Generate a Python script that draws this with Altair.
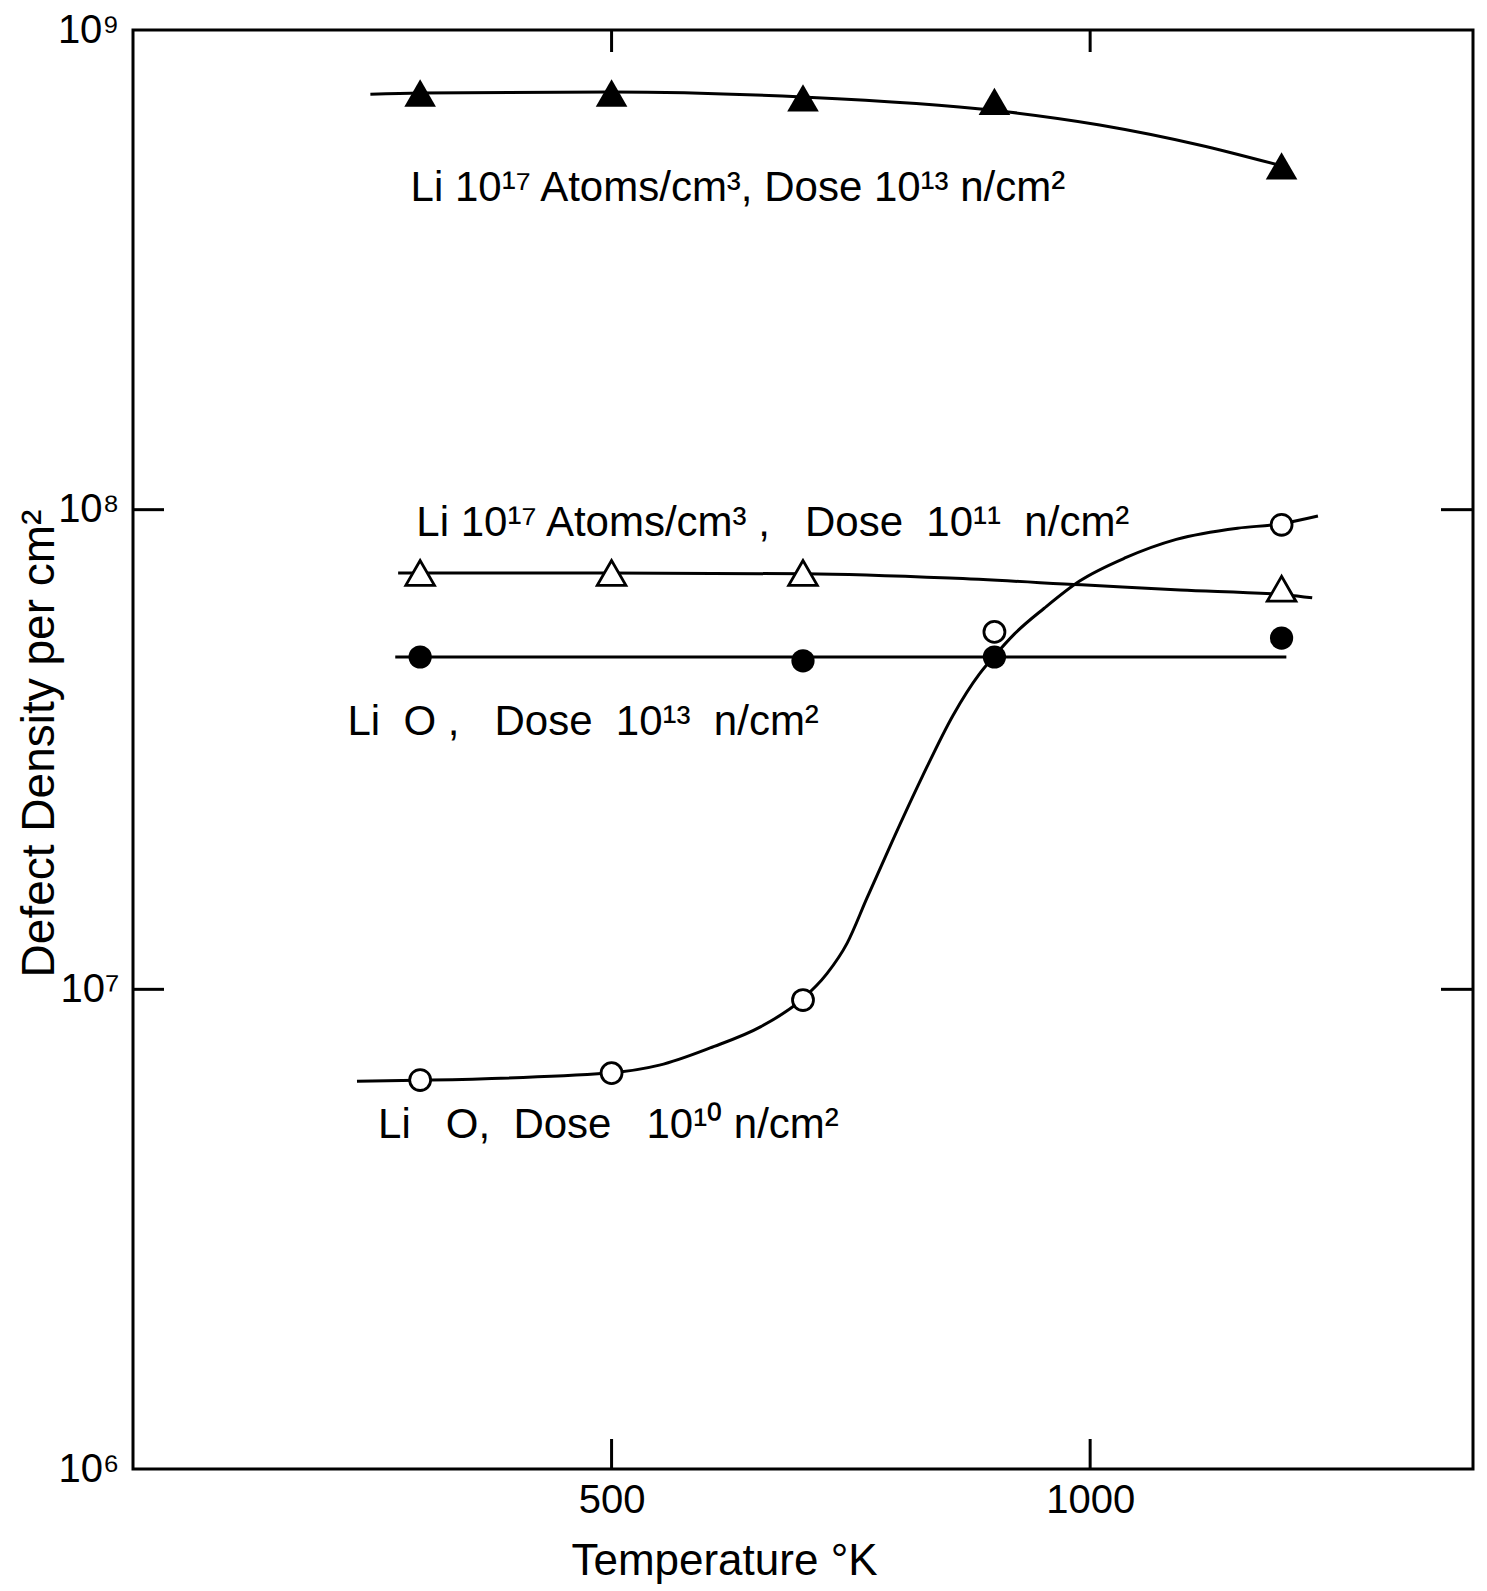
import altair as alt
import pandas as pd

# ---------------- data ----------------
# plotted symbols
ft_temp = [300, 500, 700, 900, 1200]                 # filled triangles
ft_dens = [7.39e8, 7.39e8, 7.22e8, 7.10e8, 5.21e8]
ot_temp = [300, 500, 700, 1200]                      # open triangles
ot_dens = [7.38e7, 7.38e7, 7.38e7, 6.84e7]
fc_temp = [300, 700, 900, 1200]                      # filled circles
fc_dens = [4.93e7, 4.84e7, 4.93e7, 5.40e7]
oc_temp = [300, 500, 700, 900, 1200]                 # open circles
oc_dens = [6.47e6, 6.69e6, 9.50e6, 5.56e7, 9.30e7]

# hand-drawn curves
c1_temp = [248, 300, 500, 700, 900, 1010, 1114, 1200]
c1_dens = [7.35e8, 7.39e8, 7.43e8, 7.25e8, 6.80e8, 6.34e8, 5.76e8, 5.21e8]
c2_temp = [277, 498, 702, 853, 991, 1094, 1205, 1232]
c2_dens = [7.38e7, 7.38e7, 7.35e7, 7.20e7, 6.97e7, 6.80e7, 6.64e7, 6.55e7]
c3_temp = [274, 1205]
c3_dens = [4.93e7, 4.93e7]
c4_temp = [234, 297, 496, 550, 603, 656, 698, 725, 746, 767, 793, 825, 857, 884, 899,
           921, 952, 989, 1037, 1090, 1154, 1197, 1238]
c4_dens = [6.43e6, 6.46e6, 6.69e6, 6.95e6, 7.55e6, 8.36e6, 9.49e6, 1.078e7, 1.247e7,
           1.553e7, 2.03e7, 2.786e7, 3.733e7, 4.535e7, 4.93e7, 5.51e7, 6.23e7, 7.10e7,
           7.94e7, 8.67e7, 9.15e7, 9.33e7, 9.70e7]

# in-plot labels (wide gaps kept with no-break spaces)
lab_text = ["Li 10¹⁷ Atoms/cm³, Dose 10¹³ n/cm²",
            "Li 10¹⁷ Atoms/cm³\u00a0,\u00a0\u00a0\u00a0Dose\u00a0\u00a010¹¹\u00a0\u00a0n/cm²",
            "Li\u00a0\u00a0O\u00a0,\u00a0\u00a0\u00a0Dose\u00a0\u00a010¹³\u00a0\u00a0n/cm²",
            "Li\u00a0\u00a0\u00a0O,\u00a0\u00a0Dose\u00a0\u00a0\u00a010¹⁰\u00a0n/cm²"]
lab_temp = [290, 296, 224, 256]
lab_dens = [4.40e8, 8.83e7, 3.39e7, 4.90e6]

# axes
x_ticks = [500, 1000]
y_ticks = [1e6, 1e7, 1e8, 1e9]
y_inner = [1e7, 1e8]

FONT = "Liberation Sans"
W, H = 1340, 1439

xs = alt.Scale(domain=[0, 1400], nice=False, zero=False)
ys = alt.Scale(type="log", domain=[1e6, 1e9], nice=False)

x_axis = alt.Axis(values=x_ticks, format="d", tickSize=0, domain=False, grid=False,
                  labelFontSize=40, labelPadding=11, labelFont=FONT, labelColor="black",
                  labelFlush=False,
                  title="Temperature °K", titleFont=FONT, titleFontSize=44,
                  titleFontWeight="normal", titleColor="black",
                  titleX=591, titleY=92, titleBaseline="middle", titleAlign="center")
y_axis = alt.Axis(values=y_ticks, tickSize=0, domain=False, grid=False,
                  labelExpr="datum.value >= 1e9 ? '10⁹' : datum.value >= 1e8 ? '10⁸' : datum.value >= 1e7 ? '10⁷' : '10⁶'",
                  labelFontSize=40, labelPadding=14, labelFont=FONT, labelColor="black",
                  labelBaseline="middle",
                  title="Defect Density per cm²", titleFont=FONT, titleFontSize=46,
                  titleFontWeight="normal", titleColor="black",
                  titleX=-94, titleY=713, titleAngle=270,
                  titleBaseline="middle", titleAlign="center")

X = alt.X("T:Q", scale=xs, axis=x_axis)
Y = alt.Y("D:Q", scale=ys, axis=y_axis)

# curves
curves = pd.concat([
    pd.DataFrame({"T": c1_temp, "D": c1_dens, "s": "c1"}),
    pd.DataFrame({"T": c2_temp, "D": c2_dens, "s": "c2"}),
    pd.DataFrame({"T": c3_temp, "D": c3_dens, "s": "c3"}),
    pd.DataFrame({"T": c4_temp, "D": c4_dens, "s": "c4"}),
])
lines = alt.Chart(curves).mark_line(interpolate="monotone", color="black",
                                    strokeWidth=3).encode(x=X, y=Y, detail="s:N")

ft = alt.Chart(pd.DataFrame({"T": ft_temp, "D": ft_dens})).mark_point(
    shape="triangle-up", filled=True, color="black", size=1000, opacity=1).encode(x=X, y=Y)
ot = alt.Chart(pd.DataFrame({"T": ot_temp, "D": ot_dens})).mark_point(
    shape="triangle-up", filled=True, fill="white", stroke="black", strokeWidth=2.8,
    size=820, opacity=1).encode(x=X, y=Y)
fc = alt.Chart(pd.DataFrame({"T": fc_temp, "D": fc_dens})).mark_point(
    shape="circle", filled=True, color="black", size=540, opacity=1).encode(x=X, y=Y)
oc = alt.Chart(pd.DataFrame({"T": oc_temp, "D": oc_dens})).mark_point(
    shape="circle", filled=True, fill="white", stroke="black", strokeWidth=2.8,
    size=440, opacity=1).encode(x=X, y=Y)

labels = alt.Chart(pd.DataFrame({"T": lab_temp, "D": lab_dens, "txt": lab_text})).mark_text(
    align="left", baseline="alphabetic", font=FONT, fontSize=42, color="black"
).encode(x=X, y=Y, text="txt:N")

# inward tick marks on the frame
xt_df = pd.DataFrame({"T": x_ticks})
yt_df = pd.DataFrame({"D": y_inner})
tick_bottom = alt.Chart(xt_df).mark_rule(color="black", strokeWidth=3).encode(
    x=X, y=alt.value(H), y2=alt.value(H - 30))
tick_top = alt.Chart(xt_df).mark_rule(color="black", strokeWidth=3).encode(
    x=X, y=alt.value(0), y2=alt.value(22))
tick_left = alt.Chart(yt_df).mark_rule(color="black", strokeWidth=3).encode(
    y=Y, x=alt.value(0), x2=alt.value(31))
tick_right = alt.Chart(yt_df).mark_rule(color="black", strokeWidth=3).encode(
    y=Y, x=alt.value(W), x2=alt.value(W - 32))

chart = alt.layer(
    lines, tick_bottom, tick_top, tick_left, tick_right, ft, ot, fc, oc, labels
).properties(
    width=W, height=H,
    autosize=alt.AutoSizeParams(type="none"),
    padding={"left": 125, "top": 22, "right": 6, "bottom": 118},
    background="white",
).configure_view(
    stroke="black", strokeWidth=3
)

chart.save("out.html", embed_options={"renderer": "svg", "actions": False})
